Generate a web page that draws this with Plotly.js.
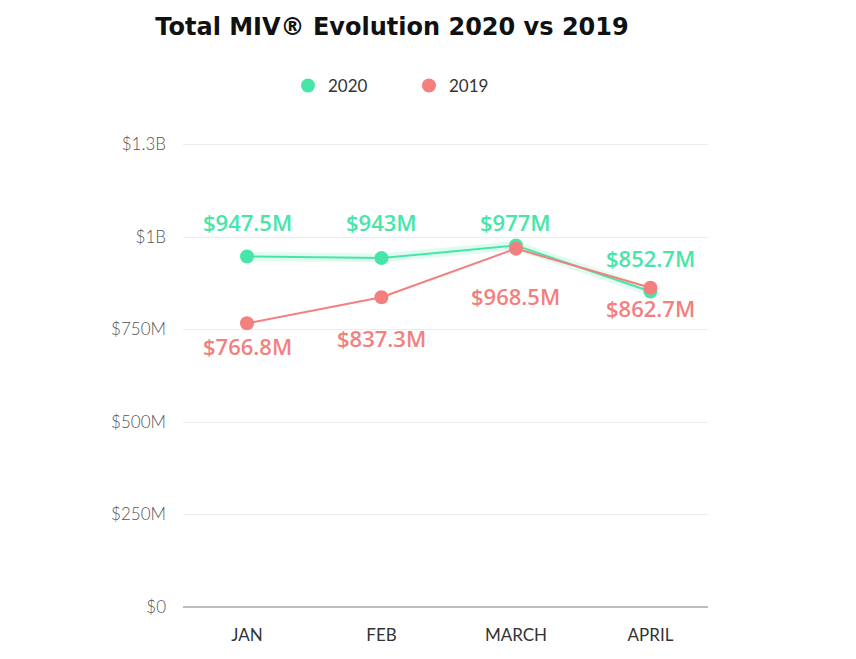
<!DOCTYPE html>
<html>
<head>
<meta charset="utf-8">
<script src="https://cdn.plot.ly/plotly-3.0.1.min.js"></script>
<style>html,body{margin:0;padding:0;background:#fff;}#chart{width:856px;height:659px;}</style>
</head>
<body>
<div id="chart"></div>
<script>
// ---- data ----
var months = ['JAN', 'FEB', 'MARCH', 'APRIL'];
var values2020 = [947.5e6, 943e6, 977e6, 852.7e6];
var values2019 = [766.8e6, 837.3e6, 968.5e6, 862.7e6];
var labels2020 = ['$947.5M', '$943M', '$977M', '$852.7M'];
var labels2019 = ['$766.8M', '$837.3M', '$968.5M', '$862.7M'];
var tickValues = [0, 250e6, 500e6, 750e6, 1e9, 1.25e9];
var tickLabels = ['$0', '$250M', '$500M', '$750M', '$1B', '$1.3B'];

// ---- styles ----
var green = '#47e6a8';
var red = '#f47f7f';
var shift2020 = [34, 36, 24, 34];      // label offset above point (px)
var shift2019 = [-23, -41, -47, -20];  // label offset below point (px)

var traces = [
  {x: months, y: values2020, mode: 'lines', line: {color: 'rgba(71,230,168,0.16)', width: 9}, showlegend: false, hoverinfo: 'skip'},
  {x: months, y: values2020, mode: 'lines', line: {color: green, width: 2}, showlegend: false, hoverinfo: 'skip'},
  {x: months, y: values2019, mode: 'lines', line: {color: red, width: 2}, showlegend: false, hoverinfo: 'skip'},
  {x: months, y: values2020, mode: 'markers', name: '2020', marker: {color: green, size: 14}},
  {x: months, y: values2019, mode: 'markers', name: '2019', marker: {color: red, size: 14}}
];

var annotations = [];
months.forEach(function (m, i) {
  annotations.push({x: m, y: values2020[i], text: labels2020[i], showarrow: false, yshift: shift2020[i],
    font: {family: 'Open Sans', size: 22, weight: 600, color: green}});
  annotations.push({x: m, y: values2019[i], text: labels2019[i], showarrow: false, yshift: shift2019[i],
    font: {family: 'Open Sans', size: 22, weight: 600, color: red}});
});

var layout = {
  width: 856, height: 659,
  paper_bgcolor: '#ffffff', plot_bgcolor: '#ffffff',
  margin: {l: 183, r: 148, t: 126, b: 52},
  title: {
    text: 'Total MIV® Evolution 2020 vs 2019',
    x: 392 / 856, xanchor: 'center', xref: 'container',
    y: 1 - 27 / 659, yanchor: 'middle', yref: 'container',
    font: {family: 'DejaVu Sans', size: 24, weight: 'bold', color: '#111111'}
  },
  showlegend: true,
  legend: {
    orientation: 'h', xref: 'container', yref: 'container',
    x: 288 / 856, xanchor: 'left', y: 1 - 86 / 659, yanchor: 'middle',
    font: {family: 'Lato', size: 17, color: '#333333'},
    entrywidth: 76, bgcolor: 'rgba(0,0,0,0)'
  },
  xaxis: {
    type: 'category', range: [-0.476, 3.428],
    showgrid: false, zeroline: false, showline: false,
    ticks: '', ticklabelstandoff: 16,
    tickfont: {family: 'Lato', size: 17, color: '#333333'}
  },
  yaxis: {
    range: [0, 1.3e9],
    tickvals: tickValues, ticktext: tickLabels,
    showgrid: true, gridcolor: '#ececec', gridwidth: 1,
    zeroline: true, zerolinecolor: '#bdbdbd', zerolinewidth: 2,
    showline: false, ticks: '', ticklabelstandoff: 16,
    tickfont: {family: 'Lato', size: 17, weight: 300, color: '#555555'}
  },
  annotations: annotations
};

Plotly.newPlot('chart', traces, layout, {displayModeBar: false, staticPlot: true});
</script>
</body>
</html>
